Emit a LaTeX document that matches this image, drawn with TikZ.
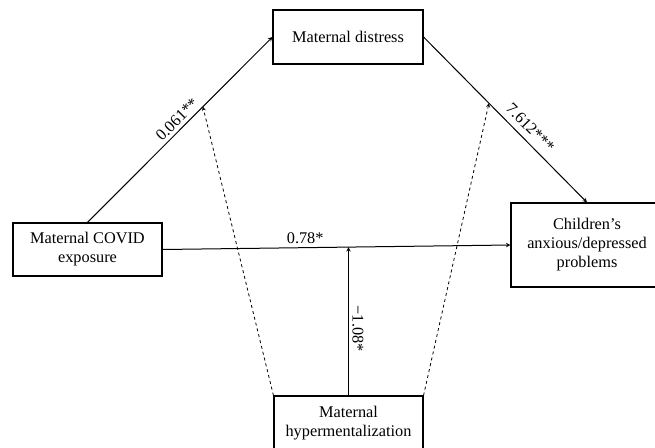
\documentclass[tikz,border=0pt]{standalone}
\usepackage{fontspec}
\setmainfont{Liberation Serif}
\usetikzlibrary{positioning, arrows}
\tikzset{
>=stealth, % small filled arrow heads
x=1pt, y=-1pt, % one unit is one pixel of the layout, y runs down
every node/.style={font=\fontsize{16.3}{19}\selectfont},
box/.style={draw, line width=1.1pt, align=center, inner sep=0pt}, % the variable boxes
link/.style={->, line width=1pt}, % solid paths
modlink/.style={->, dashed, line width=0.8pt}, % moderation paths
}

\begin{document}
\begin{tikzpicture}
        \useasboundingbox (0,0) rectangle (655,447);

        \node[box, minimum width=150pt, minimum height=54pt] (distress) at (348,37) {Maternal distress};
        \node[box, minimum width=149pt, minimum height=53pt] (covid) at (87.5,249.5) {Maternal COVID\\exposure};
        \node[box, minimum width=152pt, minimum height=84pt] (children) at (587,245) {Children's\\anxious/depressed\\problems};
        \node[box, minimum width=149pt, minimum height=54pt] (hyper) at (348.5,423) {Maternal\\hypermentalization};

        \draw[link] (covid.north) -- node[pos=0.52, sloped, above]{0.061**} (distress.west)
            coordinate[pos=0.624] (modA);
        \draw[link] (distress.east) -- node[pos=0.6, sloped, above=3pt]{7.612***} (children.north)
            coordinate[pos=0.40] (modB);
        \draw[link] (covid.east) -- node[pos=0.41, above]{0.78*} (children.west)
            coordinate[pos=0.536] (modC);

        \draw[link] (hyper.north) -- node[pos=0.45, rotate=-90, above]{−1.08*} (hyper.north |- modC);
        \draw[modlink] (hyper.north west) -- (modA);
        \draw[modlink] (hyper.north east) -- (modB);
    \end{tikzpicture}
\end{document}
